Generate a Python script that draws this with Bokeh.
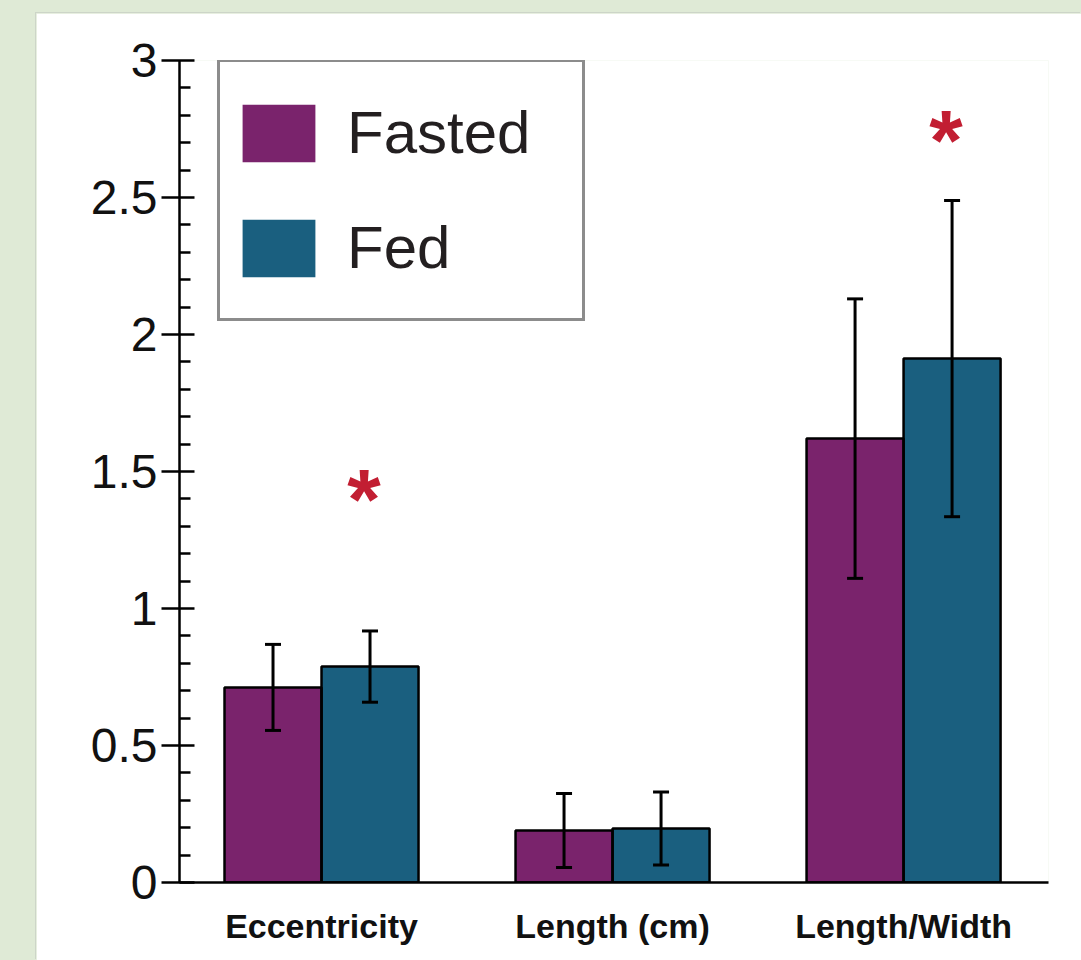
from bokeh.plotting import figure
from bokeh.models import (ColumnDataSource, Whisker, TeeHead, FixedTicker, Legend,
                          LegendItem, Range1d)
from bokeh.layouts import column
from bokeh.core.properties import value
from bokeh.embed import file_html
from bokeh.resources import INLINE

# ---- data ----
categories = ["Eccentricity", "Length (cm)", "Length/Width"]
fasted_mean = [0.712, 0.19, 1.62]
fasted_err = [0.157, 0.135, 0.51]
fed_mean = [0.788, 0.197, 1.912]
fed_err = [0.13, 0.133, 0.577]
star_category = ["Eccentricity", "Length/Width"]
star_y = [1.40, 2.71]
y_ticks = [0, 0.5, 1, 1.5, 2, 2.5, 3]
y_tick_labels = ["0", "0.5", "1", "1.5", "2", "2.5", "3"]
y_minor = [round(i * 0.1, 1) for i in range(31) if i % 5 != 0]

FASTED = "#7a236c"
FED = "#1a5f7f"
BW = 1 / 3

xc = [i + 1 for i in range(len(categories))]
src_fa = ColumnDataSource(dict(x=[c - BW / 2 for c in xc], top=fasted_mean,
                               upper=[m + e for m, e in zip(fasted_mean, fasted_err)],
                               lower=[m - e for m, e in zip(fasted_mean, fasted_err)]))
src_fe = ColumnDataSource(dict(x=[c + BW / 2 for c in xc], top=fed_mean,
                               upper=[m + e for m, e in zip(fed_mean, fed_err)],
                               lower=[m - e for m, e in zip(fed_mean, fed_err)]))

p = figure(width=1045, height=947, output_backend="svg", toolbar_location=None,
           x_range=Range1d(0.512, 3.498), y_range=Range1d(0, 3),
           min_border_left=143, min_border_right=33, min_border_top=47,
           min_border_bottom=78)
p.outline_line_color = None
p.grid.visible = False
p.background_fill_color = "white"
p.border_fill_color = "white"

r_fa = p.vbar(x="x", top="top", bottom=0, width=BW, source=src_fa,
              fill_color=FASTED, line_color=None)
r_fe = p.vbar(x="x", top="top", bottom=0, width=BW, source=src_fe,
              fill_color=FED, line_color=None)
for s in (src_fa, src_fe):
    p.vbar(x="x", top="top", bottom=0, width=BW, source=s,
           fill_alpha=0, line_color="black", line_width=2.5)
for s in (src_fa, src_fe):
    w = Whisker(base="x", upper="upper", lower="lower", source=s,
                line_color="black", line_width=3, level="overlay",
                upper_head=TeeHead(size=16, line_width=3, line_color="black"),
                lower_head=TeeHead(size=16, line_width=3, line_color="black"))
    p.add_layout(w)

star_x = [xc[categories.index(c)] + BW / 2 for c in star_category]
p.text(x=star_x, y=star_y, text=["*"] * len(star_x), text_color="#c21e32",
       text_font=value("Liberation Sans"), text_font_style="bold",
       text_font_size="86px", text_align="center", text_baseline="middle",
       x_offset=-6)

# y axis
ya = p.yaxis[0]
ya.ticker = FixedTicker(ticks=y_ticks, minor_ticks=y_minor)
ya.major_label_overrides = {t: l for t, l in zip(y_ticks, y_tick_labels)}
ya.axis_line_width = 2.5
ya.major_tick_line_width = 2.5
ya.minor_tick_line_width = 2.5
ya.major_tick_out = 18
ya.major_tick_in = 15
ya.minor_tick_out = 0
ya.minor_tick_in = 11
ya.major_label_standoff = 4
ya.major_label_text_font = "Liberation Sans"
ya.major_label_text_font_size = "48px"
ya.major_label_text_color = "#111111"

# x axis
xa = p.xaxis[0]
xa.ticker = FixedTicker(ticks=xc)
xa.major_label_overrides = {c: n for c, n in zip(xc, categories)}
xa.axis_line_width = 2.5
xa.major_tick_out = 0
xa.major_tick_in = 0
xa.minor_tick_out = 0
xa.minor_tick_in = 0
xa.major_label_standoff = 24
xa.major_label_text_font = "Liberation Sans"
xa.major_label_text_font_style = "bold"
xa.major_label_text_font_size = "34px"
xa.major_label_text_color = "#111111"

legend = Legend(items=[LegendItem(label="Fasted", renderers=[r_fa]),
                       LegendItem(label="Fed", renderers=[r_fe])],
                location=(38, 561), orientation="vertical",
                border_line_color="#8c8c8c", border_line_width=3,
                border_line_alpha=1,
                background_fill_color="white", background_fill_alpha=1,
                padding=13, margin=0, spacing=0,
                glyph_width=91, glyph_height=72,
                label_width=222, label_height=115, label_standoff=23,
                label_text_font="Liberation Sans",
                label_text_font_size="60px", label_text_color="#231f20")
p.add_layout(legend)

p.margin = (13, 0, 0, 36)
p.styles = {"box-shadow": "-1px -1px 0 #cdd5c8"}
layout = column(p, width=1081, height=960,
                styles={"background-color": "#dfead6"})

open("out.html", "w").write(file_html(layout, INLINE))
